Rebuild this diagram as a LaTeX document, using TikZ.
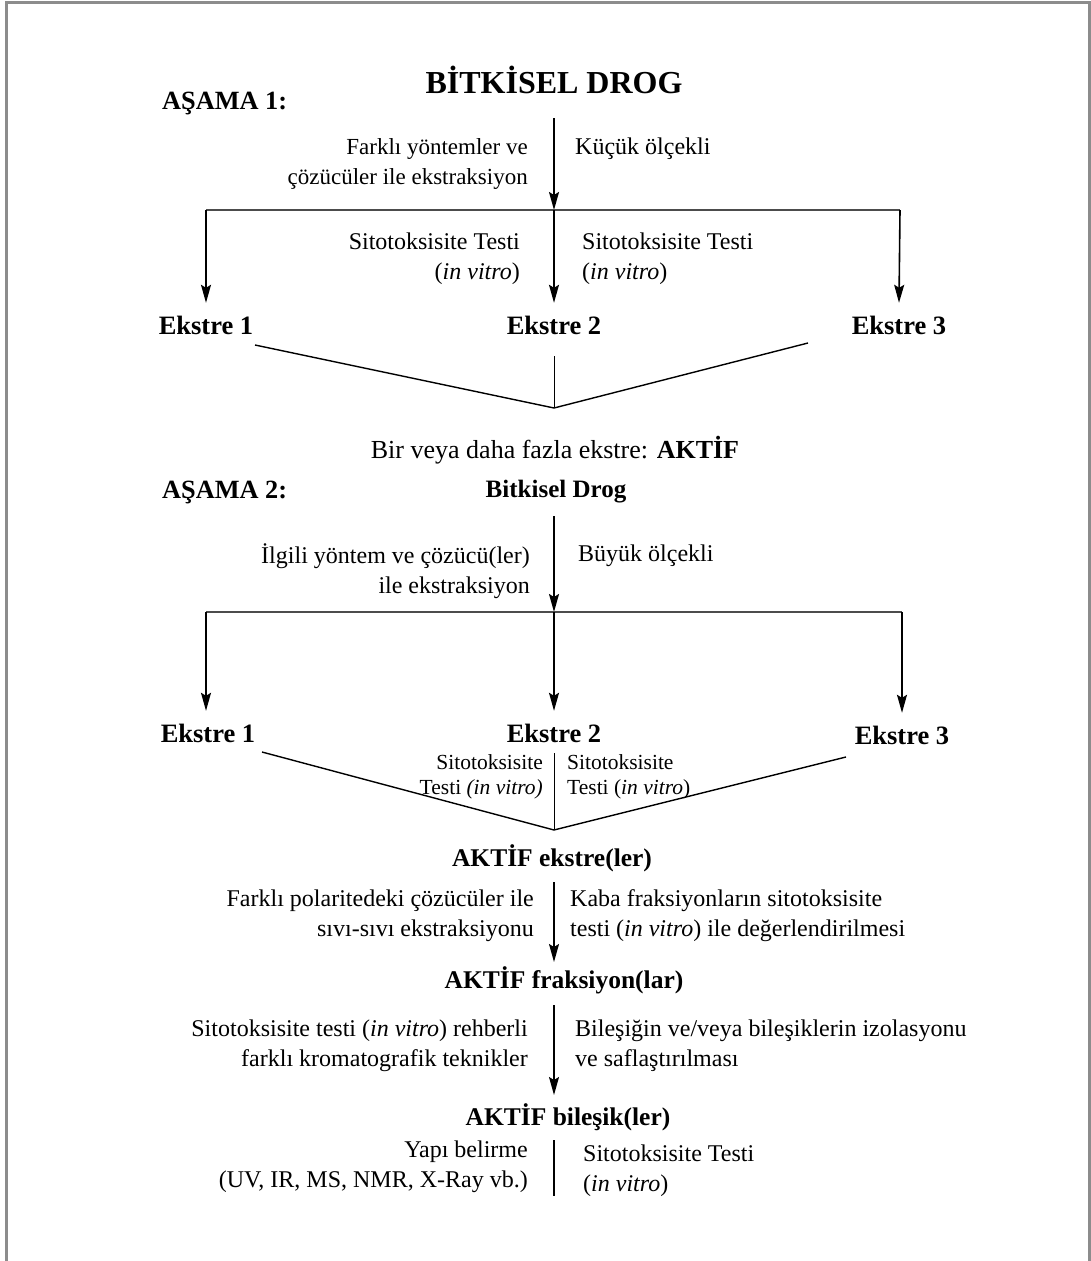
\documentclass[tikz,border=0pt]{standalone}
\usepackage{fontspec}
\setmainfont{Liberation Serif}
\usetikzlibrary{arrows.meta}

\begin{document}
\begin{tikzpicture}[x=1pt,y=-1pt,
  body/.style={font=\fontsize{24}{30}\selectfont, inner sep=0pt},
  small/.style={font=\fontsize{21.5}{25}\selectfont, inner sep=0pt},
  boldlab/.style={font=\fontsize{25.5}{30}\selectfont\bfseries, inner sep=0pt},
  ekstre/.style={font=\fontsize{26.5}{30}\selectfont\bfseries, inner sep=0pt, minimum height=44pt},
  stage/.style={font=\fontsize{26.3}{30}\selectfont\bfseries, inner sep=0pt, anchor=west},
  flow/.style={draw, line width=1.6pt, -{Stealth[length=18pt,width=10pt,inset=3pt]}},
  plain/.style={draw, line width=1.4pt},
  bar/.style={draw=black!70, line width=2.6pt},
  frame/.style={draw=black!45, line width=3pt}
]
\useasboundingbox (0,0) rectangle (1091,1261);

% outer frame, open at the bottom
\draw[frame] (6,1261) -- (6,2) -- (1089,2) -- (1089,1261);

% ---------------- stage 1 ----------------
\node[font=\fontsize{32}{36}\selectfont\bfseries, inner sep=0pt] (drog) at (554,80) {BİTKİSEL DROG};
\node[stage] (s1) at (162,104) {AŞAMA 1:};

\coordinate (a1top) at (554,118);
\coordinate (j1) at (554,210);
\coordinate (j1l) at (206,210);
\coordinate (j1r) at (900,210);

\node[body, font=\fontsize{23}{30}\selectfont, align=right, anchor=east] (m1) at (528,164) {Farklı yöntemler ve\\çözücüler ile ekstraksiyon};
\node[body, anchor=west] (sc1) at (575,149) {Küçük ölçekli};

\draw[flow] (a1top) -- (j1);
\draw[bar] (j1l) -- (j1r);

\node[ekstre] (e11) at (206,325) {Ekstre 1};
\node[ekstre] (e12) at (554,325) {Ekstre 2};
\node[ekstre] (e13) at (899,325) {Ekstre 3};

\draw[flow] (j1l) -- (e11.north);
\draw[flow] (j1) -- (e12.north);
\draw[flow] (j1r) -- (e13.north);

\node[body, align=right, anchor=east] (t1l) at (520,259) {Sitotoksisite Testi\\(\textit{in vitro})};
\node[body, align=left, anchor=west] (t1r) at (582,259) {Sitotoksisite Testi\\(\textit{in vitro})};

% first funnel
\coordinate (f1l) at (255,345);
\coordinate (f1c) at (554,356);
\coordinate (f1r) at (808,343);
\coordinate (f1a) at (554,408);
\draw[plain] (f1l) -- (f1a) -- (f1r);
\draw[plain, line width=1pt] (f1c) -- (f1a);

\node[body, font=\fontsize{26}{30}\selectfont] (act) at (555,450) {Bir veya daha fazla ekstre: \textbf{AKTİF}};

% ---------------- stage 2 ----------------
\node[stage] (s2) at (162,492) {AŞAMA 2:};
\node[boldlab, font=\fontsize{25}{30}\selectfont\bfseries] (drog2) at (556,492) {Bitkisel Drog};

\coordinate (a2top) at (554,516);
\coordinate (j2) at (554,612);
\coordinate (j2l) at (206,612);
\coordinate (j2r) at (902,612);

\node[body, align=right, anchor=east] (m2) at (530,571) {İlgili yöntem ve çözücü(ler)\\ile ekstraksiyon};
\node[body, anchor=west] (sc2) at (578,556) {Büyük ölçekli};

\draw[flow] (a2top) -- (j2);
\draw[bar] (j2l) -- (j2r);

\node[ekstre] (e21) at (208,733) {Ekstre 1};
\node[ekstre] (e22) at (554,733) {Ekstre 2};
\node[ekstre] (e23) at (902,735) {Ekstre 3};

\draw[flow] (j2l) -- (j2l |- e21.north);
\draw[flow] (j2) -- (e22.north);
\draw[flow] (j2r) -- (j2r |- e23.north);

% second funnel
\coordinate (f2l) at (262,752);
\coordinate (f2c) at (554,753);
\coordinate (f2r) at (846,757);
\coordinate (f2a) at (554,830);
\draw[plain] (f2l) -- (f2a) -- (f2r);
\draw[plain, line width=1pt] (f2c) -- (f2a);

\node[small, align=right, anchor=east] (t2l) at (543,777) {Sitotoksisite\\Testi \textit{(in vitro)}};
\node[small, align=left, anchor=west] (t2r) at (567,777) {Sitotoksisite\\Testi (\textit{in vitro})};

% ---------------- active chain ----------------
\node[boldlab] (ae) at (552,858) {AKTİF ekstre(ler)};
\node[boldlab] (af) at (564,980) {AKTİF fraksiyon(lar)};
\node[boldlab] (ab) at (568,1117) {AKTİF bileşik(ler)};

\coordinate (ae1) at (554,882);
\coordinate (af0) at (554,962);
\coordinate (af1) at (554,1005);
\coordinate (ab0) at (554,1095);
\coordinate (ab1) at (554,1140);
\coordinate (ab2) at (554,1196);

\draw[flow, line width=1.4pt] (ae1) -- (af0);
\draw[flow, line width=1.4pt] (af1) -- (ab0);
\draw[plain] (ab1) -- (ab2);

\node[body, align=right, anchor=east] (p1) at (534,916) {Farklı polaritedeki çözücüler ile\\sıvı-sıvı ekstraksiyonu};
\node[body, align=left, anchor=west] (p2) at (570,916) {Kaba fraksiyonların sitotoksisite\\testi (\textit{in vitro}) ile değerlendirilmesi};

\node[body, align=right, anchor=east] (k1) at (528,1046) {Sitotoksisite testi (\textit{in vitro}) rehberli\\farklı kromatografik teknikler};
\node[body, align=left, anchor=west] (k2) at (575,1046) {Bileşiğin ve/veya bileşiklerin izolasyonu\\ve saflaştırılması};

\node[body, align=right, anchor=east] (y1) at (528,1167) {Yapı belirme\\(UV, IR, MS, NMR, X-Ray vb.)};
\node[body, align=left, anchor=west] (y2) at (583,1171) {Sitotoksisite Testi\\(\textit{in vitro})};

\end{tikzpicture}
\end{document}
